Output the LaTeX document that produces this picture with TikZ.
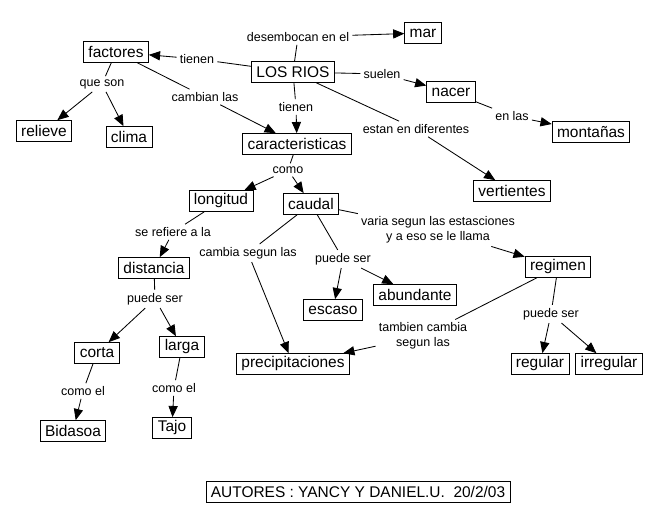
\documentclass[tikz,border=0pt]{standalone}
\usepackage{fontspec}
\setmainfont{Liberation Sans}
\usetikzlibrary{arrows.meta}

\begin{document}
\begin{tikzpicture}[->,>={Triangle[length=2.8mm,width=2.3mm]},
                  x=0.025cm, y=-0.025cm, line width=0.6pt,
                  concepto/.style={draw, rectangle, inner xsep=3.5pt,
                  inner ysep=1pt, minimum height=0.52cm,
                  font=\fontsize{11}{12.5}\selectfont},
                  enlace/.style={inner sep=2pt, align=center,
                  font=\fontsize{8.9}{10.5}\selectfont}]

                  \useasboundingbox (0,0) rectangle (658,524);

                  % Colocamos los conceptos del mapa.
                  \node[concepto] (rios) at (293,72) {LOS RIOS};
                  \node[concepto] (mar) at (423,33) {mar};
                  \node[concepto] (fact) at (116,52) {factores};
                  \node[concepto] (nacer) at (451,92) {nacer};
                  \node[concepto] (mont) at (591,132) {montañas};
                  \node[concepto] (relieve) at (44,131) {relieve};
                  \node[concepto] (clima) at (129,137) {clima};
                  \node[concepto] (carac) at (297,144) {caracteristicas};
                  \node[concepto] (vert) at (512,191) {vertientes};
                  \node[concepto] (long) at (221,201) {longitud};
                  \node[concepto] (caudal) at (311,204) {caudal};
                  \node[concepto] (dist) at (154,268) {distancia};
                  \node[concepto] (regimen) at (558,267) {regimen};
                  \node[concepto] (abund) at (415,295) {abundante};
                  \node[concepto] (escaso) at (333,310) {escaso};
                  \node[concepto] (larga) at (182,347) {larga};
                  \node[concepto] (corta) at (97,353) {corta};
                  \node[concepto] (precip) at (293,364) {precipitaciones};
                  \node[concepto] (regular) at (540,364) {regular};
                  \node[concepto] (irreg) at (609,364) {irregular};
                  \node[concepto] (tajo) at (172,428) {Tajo};
                  \node[concepto] (bidasoa) at (73,431) {Bidasoa};
                  \node[concepto] (autores) at (358,492)
                  {AUTORES : YANCY Y DANIEL.U.\ \ 20/2/03};

                  % Colocamos las palabras de enlace.
                  \node[enlace] (lmar) at (298,37) {desembocan en el};
                  \node[enlace] (lfact) at (197,59) {tienen};
                  \node[enlace] (lnacer) at (382,74) {suelen};
                  \node[enlace] (lcarac) at (296,107) {tienen};
                  \node[enlace] (lvert) at (416,129) {estan en diferentes};
                  \node[enlace] (lson) at (102,84) {que son};
                  \node[enlace] (lcamb) at (205,97) {cambian las};
                  \node[enlace] (lmont) at (512,116) {en las};
                  \node[enlace] (lcomo) at (288,170) {como};
                  \node[enlace] (lref) at (173,232) {se refiere a la};
                  \node[enlace] (lsegun) at (248,253) {cambia segun las};
                  \node[enlace] (lpcaudal) at (343,259) {puede ser};
                  \node[enlace] (lvaria) at (438,230)
                  {varia segun las estasciones\\ y a eso se le llama};
                  \node[enlace] (lpdist) at (155,299) {puede ser};
                  \node[enlace] (lcorta) at (83,391) {como el};
                  \node[enlace] (llarga) at (174,388) {como el};
                  \node[enlace] (ltamb) at (423,336)
                  {tambien cambia\\ segun las};
                  \node[enlace] (lpreg) at (551,314) {puede ser};

                  % Dibujamos las conexiones del mapa.
                  \draw (rios) edge[-] (lmar) (lmar) edge (mar)
                  (rios) edge[-] (lfact) (lfact) edge (fact)
                  (rios) edge[-] (lnacer) (lnacer) edge (nacer)
                  (rios) edge[-] (lcarac) (lcarac) edge (carac)
                  (rios) edge[-] (lvert) (lvert) edge (vert)
                  (fact) edge[-] (lson) (lson) edge (relieve)
                  (lson) edge (clima)
                  (fact) edge[-] (lcamb) (lcamb) edge (carac)
                  (nacer) edge[-] (lmont) (lmont) edge (mont)
                  (carac) edge[-] (lcomo) (lcomo) edge (long)
                  (lcomo) edge (caudal)
                  (long) edge[-] (lref) (lref) edge (dist)
                  (caudal) edge[-] (lsegun) (lsegun) edge (precip)
                  (caudal) edge[-] (lpcaudal) (lpcaudal) edge (escaso)
                  (lpcaudal) edge (abund)
                  (caudal) edge[-] (lvaria) (lvaria) edge (regimen)
                  (dist) edge[-] (lpdist) (lpdist) edge (corta)
                  (lpdist) edge (larga)
                  (corta) edge[-] (lcorta) (lcorta) edge (bidasoa)
                  (larga) edge[-] (llarga) (llarga) edge (tajo)
                  (regimen) edge[-] (ltamb) (ltamb) edge (precip)
                  (regimen) edge[-] (lpreg) (lpreg) edge (regular)
                  (lpreg) edge (irreg);

                \end{tikzpicture}
\end{document}
